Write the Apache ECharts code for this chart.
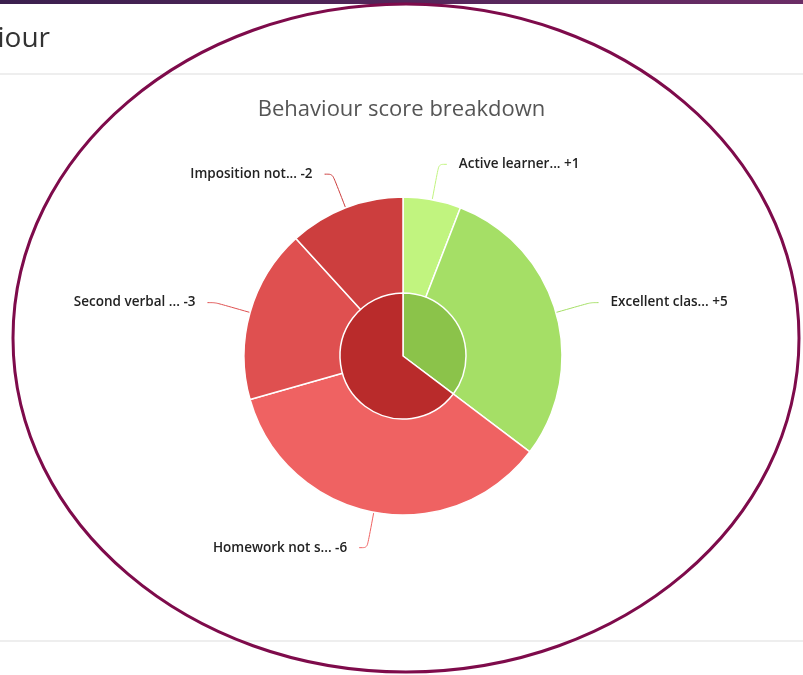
<!DOCTYPE html>
<html>
<head>
<meta charset="utf-8">
<script src="https://cdn.jsdelivr.net/npm/echarts@6/dist/echarts.min.js"></script>
<style>
  html, body { margin: 0; padding: 0; background: #fff; }
  #chart-container { width: 803px; height: 675px; }
</style>
</head>
<body>
<div id="chart-container"></div>
<script>
var categories = ['Active learner...', 'Excellent clas...', 'Homework not s...', 'Second verbal ...', 'Imposition not...'];
var scores = [1, 5, -6, -3, -2];
var outerColors = ['#c1f47f', '#a5df66', '#ef6262', '#df5050', '#cc3e3e'];
var groupNames = ['Positive', 'Negative'];
var groupColors = ['#8bc34a', '#b92b2b'];

var positive = 0, negative = 0;
scores.forEach(function (s) {
    if (s > 0) positive += s; else negative += -s;
});
var groupValues = [positive, negative];

var dom = document.getElementById('chart-container');
var myChart = echarts.init(dom, null, { renderer: 'canvas' });

var option = {
    animation: false,
    textStyle: { fontFamily: 'Open Sans' },
    title: {
        text: 'Behaviour score breakdown',
        left: 'center',
        top: 94,
        textStyle: { fontFamily: 'Open Sans', fontSize: 22, fontWeight: 'normal', color: '#555' }
    },
    graphic: [
        {
            type: 'rect',
            shape: { x: 0, y: 0, width: 803, height: 4 },
            style: {
                fill: new echarts.graphic.LinearGradient(0, 0, 1, 0, [
                    { offset: 0, color: '#3b1f4e' },
                    { offset: 1, color: '#6b2d66' }
                ])
            }
        },
        {
            type: 'text',
            left: -83,
            top: 25,
            style: { text: 'Behaviour', fontFamily: 'Open Sans', fontSize: 28, fill: '#333' }
        },
        {
            type: 'rect',
            shape: { x: 0, y: 73, width: 803, height: 2 },
            style: { fill: '#eeeeee' }
        },
        {
            type: 'rect',
            shape: { x: 0, y: 640, width: 803, height: 2 },
            style: { fill: '#eeeeee' }
        },
        {
            type: 'ellipse',
            shape: { cx: 406, cy: 338, rx: 393, ry: 334 },
            style: { fill: 'none', stroke: '#7e0b4b', lineWidth: 3 },
            z: 100
        }
    ],
    series: [
        {
            type: 'pie',
            center: [403, 356],
            radius: [0, 159],
            startAngle: 90,
            clockwise: true,
            itemStyle: { borderColor: '#fff', borderWidth: 1.5 },
            label: {
                show: true,
                fontFamily: 'Open Sans',
                fontSize: 13.5,
                fontWeight: 600,
                color: '#222',
                distanceToLabelLine: 12,
                formatter: function (p) {
                    var s = scores[p.dataIndex];
                    return p.name + ' ' + (s > 0 ? '+' + s : s);
                }
            },
            labelLine: { show: true, length: 36, length2: 8, smooth: true, lineStyle: { width: 1 } },
            data: categories.map(function (c, i) {
                return { name: c, value: Math.abs(scores[i]), itemStyle: { color: outerColors[i] } };
            })
        },
        {
            type: 'pie',
            center: [403, 356],
            radius: [0, 63],
            startAngle: 90,
            clockwise: true,
            itemStyle: { borderColor: '#fff', borderWidth: 1.5 },
            label: { show: false },
            labelLine: { show: false },
            data: groupNames.map(function (g, i) {
                return { name: g, value: groupValues[i], itemStyle: { color: groupColors[i] } };
            }),
            z: 3
        }
    ]
};

myChart.setOption(option);
window.addEventListener('resize', myChart.resize);
</script>
</body>
</html>
